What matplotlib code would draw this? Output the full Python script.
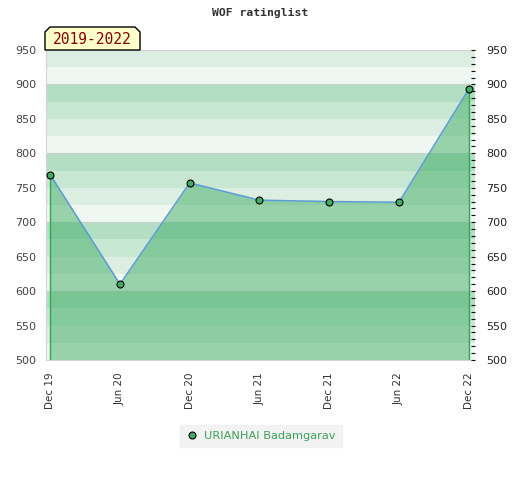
import matplotlib
matplotlib.use('Agg')
import matplotlib.pyplot as plt
from matplotlib.patches import Polygon
from matplotlib.lines import Line2D

# dados
meses = ['Dec 19', 'Jun 20', 'Dec 20', 'Jun 21', 'Dec 21', 'Jun 22', 'Dec 22']
rating = [769, 610, 757, 732, 730, 729, 893]
jogador = 'URIANHAI Badamgarav'
periodo = '2019-2022'

W, H = 520, 480
fig = plt.figure(figsize=(W / 100, H / 100), dpi=100)
fig.patch.set_facecolor('white')

def fx(px):
    return px / W

def fy(py):
    return 1 - py / H

ax = fig.add_axes([fx(46), fy(360), fx(475) - fx(46), fy(50) - fy(360)])
ax.set_xlim(-0.06, 6.09)
ax.set_ylim(500, 950)

# faixas de fundo de 25 em 25
cores_faixa = {75: '#b3dec3', 50: '#c8e7d3', 25: '#dcede2', 0: '#eef7f1'}
for v in range(500, 950, 25):
    ax.axhspan(v, v + 25, color=cores_faixa[v % 100], lw=0, zorder=0)
for v in range(600, 950, 100):
    ax.axhline(v, color='#c8d2cc', lw=0.8, zorder=0.5)

x = list(range(len(meses)))
ax.fill_between(x, 500, rating, color='#41ae67', alpha=0.5, lw=0, zorder=1)
ax.plot([x[0], x[0]], [500, rating[0]], color='#2fa650', lw=1.0, zorder=2)
ax.plot([x[-1], x[-1]], [500, rating[-1]], color='#2fa650', lw=1.0, zorder=2)
ax.plot(x, rating, color='#5b9bd5', lw=1.1, zorder=3)
ax.plot(x, rating, 'o', color='#3cab64', mec='black', mew=0.8, ms=5, zorder=4)

ax.set_xticks(x)
ax.set_xticklabels(meses, rotation=90, fontsize=7.5, color='#333333')
ax.tick_params(axis='x', length=0, pad=9)
ax.set_yticks(range(500, 951, 50))
ax.tick_params(axis='y', length=0, labelsize=8, labelcolor='#444444', pad=7)

for s in ['left', 'top', 'bottom']:
    ax.spines[s].set_color('#d4d4d4')
ax.spines['right'].set_visible(False)

ax2 = ax.twinx()
ax2.set_ylim(500, 950)
ax2.set_yticks(range(500, 951, 50))
ax2.set_yticks(range(500, 951, 10), minor=True)
ax2.tick_params(axis='y', which='both', direction='in', length=3, width=0.8,
                color='#111111', labelsize=8, labelcolor='#222222', pad=8)
for s in ax2.spines.values():
    s.set_visible(False)

fig.text(fx(260), fy(13), 'WOF ratinglist', ha='center', va='center',
         family='DejaVu Sans Mono', weight='bold', fontsize=8.2, color='#333333')

# etiqueta do periodo
pts = [(45, 50), (45, 32), (50, 27), (135, 27), (140, 32), (140, 50)]
fig.patches.append(Polygon([(fx(a), fy(b)) for a, b in pts], closed=True,
                           transform=fig.transFigure, facecolor='#ffffcc',
                           edgecolor='black', lw=1, zorder=5))
fig.text(fx(92.5), fy(39.5), periodo, ha='center', va='center', zorder=6,
         family='DejaVu Sans Mono', fontsize=10.5, color='#8b0000')

h = Line2D([], [], ls='', marker='o', color='#3cab64', mec='black', mew=0.8, ms=5)
leg = fig.legend([h], [jogador], loc='center', bbox_to_anchor=(fx(261), fy(436)),
                 frameon=True, fontsize=8.2, handlelength=1, handletextpad=0.6,
                 borderpad=0.5, fancybox=False)
leg.get_frame().set_facecolor('#f0f0f0')
leg.get_frame().set_edgecolor('#f0f0f0')
for t in leg.get_texts():
    t.set_color('#3aa35a')

fig.savefig('out.png', dpi=100)
